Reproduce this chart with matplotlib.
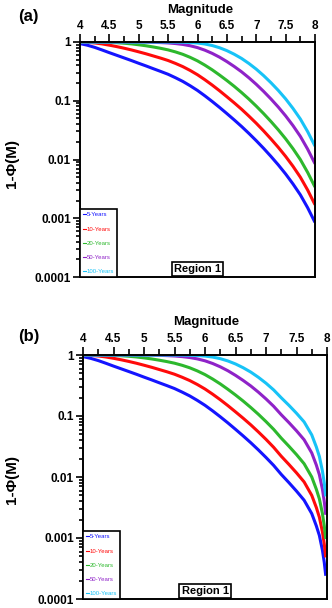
import numpy as np
import matplotlib
matplotlib.use("Agg")
from matplotlib import pyplot as plt
from matplotlib.lines import Line2D
from matplotlib.ticker import MultipleLocator, FixedLocator, LogLocator, NullFormatter

plt.rcParams['font.family'] = ['Liberation Sans', 'DejaVu Sans']

# panel (a): magnitude grid and 1-phi(M) for each return period
mag_a = [4.0, 4.125, 4.25, 4.375, 4.5, 4.625, 4.75, 4.875, 5.0, 5.125, 5.25,
         5.375, 5.5, 5.625, 5.75, 5.875, 6.0, 6.125, 6.25, 6.375, 6.5, 6.625,
         6.75, 6.875, 7.0, 7.125, 7.25, 7.375, 7.5, 7.625, 7.75, 7.875, 8.0]
a_5 = [0.940, 0.882, 0.810, 0.732, 0.658, 0.594, 0.536, 0.4835, 0.434, 0.391,
       0.3505, 0.315, 0.282, 0.2465, 0.2133, 0.180, 0.1497, 0.1214, 0.0972,
       0.0771, 0.0605, 0.0472, 0.0365, 0.0278, 0.0209, 0.0155, 0.01129,
       0.00810, 0.00567, 0.00384, 0.00251, 0.00151, 0.00085]
a_10 = [0.9964, 0.986, 0.964, 0.928, 0.883, 0.835, 0.7845, 0.733, 0.680, 0.629,
        0.578, 0.531, 0.484, 0.432, 0.381, 0.328, 0.277, 0.228, 0.185, 0.148,
        0.117, 0.0921, 0.0717, 0.0548, 0.0414, 0.0307, 0.0224, 0.0161, 0.0113,
        0.00767, 0.00501, 0.00302, 0.00170]
a_20 = [1.0, 0.9998, 0.9987, 0.9949, 0.9863, 0.9728, 0.9536, 0.929, 0.897,
        0.862, 0.822, 0.780, 0.734, 0.678, 0.617, 0.548, 0.477, 0.404, 0.336,
        0.274, 0.221, 0.176, 0.138, 0.1067, 0.081, 0.0605, 0.0444, 0.032,
        0.0225, 0.0153, 0.0100, 0.00602, 0.0034]
a_50 = [1.0, 1.0, 1.0, 1.0, 1.0, 0.9999, 0.9995, 0.9986, 0.9966, 0.9930,
        0.9866, 0.9773, 0.9635, 0.941, 0.909, 0.863, 0.8025, 0.726, 0.6405,
        0.552, 0.464, 0.383, 0.311, 0.246, 0.1905, 0.1444, 0.1073, 0.0781,
        0.0553, 0.0378, 0.0248, 0.0150, 0.00847]
a_100 = [1.0, 1.0, 1.0, 1.0, 1.0, 1.0, 1.0, 1.0, 1.0, 1.0, 0.9998, 0.9995,
         0.9987, 0.9965, 0.9918, 0.981, 0.961, 0.925, 0.871, 0.799, 0.713,
         0.619, 0.525, 0.431, 0.345, 0.268, 0.203, 0.150, 0.1076, 0.0741,
         0.049, 0.0298, 0.0169]

# panel (b): same region, distribution truncated at M 8
mag_b = [4.0, 4.125, 4.25, 4.375, 4.5, 4.625, 4.75, 4.875, 5.0, 5.125, 5.25,
         5.375, 5.5, 5.625, 5.75, 5.875, 6.0, 6.125, 6.25, 6.375, 6.5, 6.625,
         6.75, 6.875, 7.0, 7.125, 7.25, 7.375, 7.5, 7.625, 7.75, 7.825, 7.875,
         7.925, 7.955, 7.98]
b_5 = [0.940, 0.882, 0.810, 0.732, 0.658, 0.594, 0.536, 0.4835, 0.434, 0.391,
       0.3505, 0.315, 0.282, 0.2465, 0.2133, 0.180, 0.1497, 0.1214, 0.0972,
       0.0771, 0.0605, 0.0472, 0.0365, 0.0278, 0.0209, 0.0155, 0.01103,
       0.0081, 0.00587, 0.00416, 0.00251, 0.00158, 0.0011, 0.00063, 0.0004,
       0.00024]
b_10 = [0.9964, 0.986, 0.964, 0.928, 0.883, 0.835, 0.7845, 0.733, 0.680, 0.629,
        0.578, 0.531, 0.484, 0.432, 0.381, 0.328, 0.277, 0.228, 0.185, 0.148,
        0.117, 0.0921, 0.0717, 0.0548, 0.0414, 0.0307, 0.0219, 0.0161, 0.0117,
        0.0083, 0.0050, 0.00316, 0.00219, 0.00126, 0.0008, 0.00048]
b_20 = [1.0, 0.9998, 0.9987, 0.9949, 0.9863, 0.9728, 0.9536, 0.929, 0.897,
        0.862, 0.822, 0.780, 0.734, 0.678, 0.617, 0.548, 0.477, 0.404, 0.336,
        0.274, 0.221, 0.176, 0.138, 0.1067, 0.081, 0.0605, 0.0434, 0.032,
        0.0233, 0.0165, 0.0100, 0.0063, 0.00438, 0.00252, 0.0016, 0.00096]
b_50 = [1.0, 1.0, 1.0, 1.0, 1.0, 0.9999, 0.9995, 0.9986, 0.9966, 0.9930,
        0.9866, 0.9773, 0.9635, 0.941, 0.909, 0.863, 0.8025, 0.726, 0.6405,
        0.552, 0.464, 0.383, 0.311, 0.246, 0.1905, 0.1444, 0.105, 0.0781,
        0.0572, 0.0408, 0.0248, 0.0157, 0.0109, 0.0063, 0.0040, 0.0024]
b_100 = [1.0, 1.0, 1.0, 1.0, 1.0, 1.0, 1.0, 1.0, 1.0, 1.0, 0.9998, 0.9995,
         0.9987, 0.9965, 0.9918, 0.981, 0.961, 0.925, 0.871, 0.799, 0.713,
         0.619, 0.525, 0.431, 0.345, 0.268, 0.199, 0.150, 0.111, 0.080, 0.049,
         0.0311, 0.0217, 0.0125, 0.0080, 0.0048]

labels = ['5-Years', '10-Years', '20-Years', '50-Years', '100-Years']
colors = ['#1414ff', '#ff0a0a', '#2db82d', '#8f22c8', '#17c3f7']
ytick_vals = [1, 0.1, 0.01, 0.001, 0.0001]
ytick_labels = ['1', '0.1', '0.01', '0.001', '0.0001']

W, H = 332, 608
fig = plt.figure(figsize=(W / 100, H / 100), dpi=100)


def panel(rect, mag, series, tag, tag_y, mag_y, mag_x, ylab_y):
    l, t, r, b = rect
    ax = fig.add_axes([l / W, 1 - b / H, (r - l) / W, (b - t) / H])
    for vals, c in zip(series, colors):
        ax.plot(mag, vals, color=c, lw=2.2, solid_capstyle='butt',
                solid_joinstyle='round')
    ax.set_yscale('log')
    ax.set_xlim(4, 8)
    ax.set_ylim(1e-4, 1)
    ax.xaxis.tick_top()
    ax.xaxis.set_major_locator(MultipleLocator(0.5))
    ax.xaxis.set_minor_locator(MultipleLocator(0.25))
    ax.set_xticklabels([('%g' % v) for v in ax.get_xticks()])
    ax.yaxis.set_major_locator(FixedLocator(ytick_vals))
    ax.set_yticklabels(ytick_labels)
    ax.yaxis.set_minor_locator(LogLocator(base=10, subs=np.arange(2, 10)))
    ax.yaxis.set_minor_formatter(NullFormatter())
    ax.tick_params(which='both', direction='out', width=1.2, labelsize=8.5, pad=1.5)
    ax.tick_params(axis='x', which='major', length=5.5)
    ax.tick_params(axis='x', which='minor', length=4.5)
    ax.tick_params(axis='y', which='major', length=5)
    ax.tick_params(axis='y', which='minor', length=3)
    for lab in ax.get_xticklabels() + ax.get_yticklabels():
        lab.set_fontweight('bold')
    for s in ax.spines.values():
        s.set_linewidth(1.4)

    handles = [Line2D([], [], color=c, lw=0.8) for c in colors]
    leg = ax.legend(handles, labels, loc='lower left',
                    prop={'size': 4.3},
                    handlelength=0.5, handletextpad=0.1, labelspacing=1.5,
                    borderpad=0.5, borderaxespad=0, fancybox=False,
                    edgecolor='black', labelcolor='linecolor')
    leg.get_frame().set_linewidth(1.2)
    leg.get_frame().set_alpha(1)

    ax.text(0.5, 0.012, 'Region 1', transform=ax.transAxes, ha='center', va='bottom',
            fontsize=8, fontweight='bold',
            bbox=dict(boxstyle='square,pad=0.2', fc='white', ec='black', lw=1.2))

    fig.text(18 / W, 1 - tag_y / H, tag, fontsize=12, fontweight='bold',
             ha='left', va='center')
    fig.text(mag_x / W, 1 - mag_y / H, 'Magnitude', fontsize=9.5, fontweight='bold',
             ha='center', va='baseline')
    fig.text(12 / W, 1 - ylab_y / H, '1-Φ(M)', fontsize=11, fontweight='bold',
             rotation=90, ha='center', va='center')
    return ax


panel((80, 42, 315, 277), mag_a, [a_5, a_10, a_20, a_50, a_100], '(a)', 17, 12.7, 200, 163)
panel((83, 355, 327, 599), mag_b, [b_5, b_10, b_20, b_50, b_100], '(b)', 336, 325, 206, 479)

fig.savefig('out.png', dpi=100)
